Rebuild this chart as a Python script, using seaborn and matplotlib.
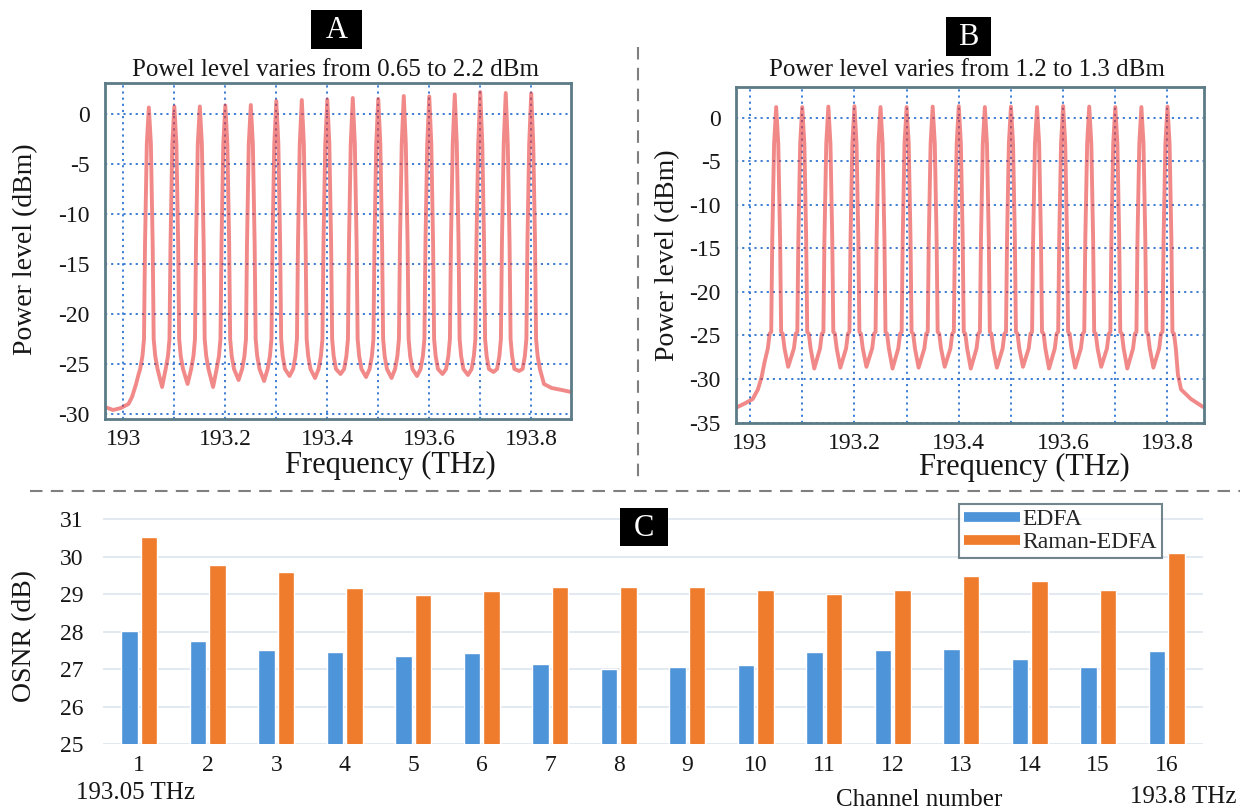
import numpy as np
import pandas as pd
import matplotlib
matplotlib.use('Agg')
import matplotlib.pyplot as plt
import seaborn as sns
from matplotlib.lines import Line2D
from matplotlib.patches import Rectangle
from matplotlib.ticker import MultipleLocator

# ---- spectra (panels A and B) ----
channel_thz = [193.05, 193.10, 193.15, 193.20, 193.25, 193.30, 193.35, 193.40,
               193.45, 193.50, 193.55, 193.60, 193.65, 193.70, 193.75, 193.80]

# panel A: EDFA only
peak_a = [0.65, 0.75, 0.75, 0.85, 0.9, 1.3, 1.4, 1.45, 1.6, 1.5, 1.8, 1.75, 1.95, 2.2, 2.1, 2.05]
valley_a = [-27.3, -27.0, -27.3, -26.6, -26.7, -26.2, -26.4, -26.0,
            -26.3, -26.4, -26.2, -26.0, -26.1, -25.8, -25.7]
shape_off_a = [-0.017, -0.0125, -0.0095, -0.0075, -0.004, 0.0, 0.004, 0.0075, 0.0095, 0.0125, 0.017]
shape_lvl_a = [-25.5, -24.2, -22.5, -13.0, -3.0, None, -3.0, -13.0, -22.5, -24.2, -25.5]
left_f_a = [192.964, 192.98, 192.995, 193.01, 193.017, 193.025, 193.03]
left_p_a = [-29.3, -29.6, -29.4, -29.0, -28.3, -27.0, -26.0]
right_f_a = [193.825, 193.84, 193.86, 193.878]
right_p_a = [-27.0, -27.4, -27.6, -27.8]

# panel B: hybrid Raman-EDFA
peak_b = [1.2, 1.2, 1.25, 1.3, 1.2, 1.2, 1.25, 1.3, 1.2, 1.25, 1.2, 1.3, 1.25, 1.2, 1.2, 1.25]
valley_b = [-28.6, -28.8, -28.7, -28.6, -28.8, -28.7, -28.6, -28.8,
            -28.7, -28.6, -28.8, -28.7, -28.6, -28.8, -28.7]
shape_off_b = [-0.016, -0.0125, -0.0095, -0.0075, -0.004, 0.0, 0.004, 0.0075, 0.0095, 0.0125, 0.016]
shape_lvl_b = [-26.5, -24.8, -24.6, -14.0, -3.0, None, -3.0, -14.0, -24.6, -24.8, -26.5]
left_f_b = [192.973, 192.99, 193.005, 193.015, 193.022, 193.028]
left_p_b = [-33.3, -32.8, -32.3, -31.2, -29.8, -28.0]
right_f_b = [193.82, 193.826, 193.845, 193.868]
right_p_b = [-29.5, -31.2, -32.3, -33.2]

freq_ticks = [193.0, 193.2, 193.4, 193.6, 193.8]
freq_labels = ['193', '193.2', '193.4', '193.6', '193.8']

# ---- OSNR bars (panel C) ----
channels = ['1', '2', '3', '4', '5', '6', '7', '8', '9', '10', '11', '12', '13', '14', '15', '16']
osnr_edfa = [28.02, 27.76, 27.51, 27.47, 27.35, 27.43, 27.14, 27.00,
             27.05, 27.12, 27.47, 27.50, 27.54, 27.26, 27.07, 27.49]
osnr_raman = [30.51, 29.78, 29.59, 29.16, 28.97, 29.08, 29.19, 29.19,
              29.19, 29.10, 29.01, 29.10, 29.49, 29.35, 29.11, 30.09]


def build_trace(left_f, left_p, peaks, valleys, offs, lvls, valley_off, right_f, right_p):
    freq, power = list(left_f), list(left_p)
    for i, f in enumerate(channel_thz):
        for o, l in zip(offs, lvls):
            freq.append(f + o)
            power.append(peaks[i] if l is None else l)
        if i < len(valleys):
            freq.append(f + valley_off)
            power.append(valleys[i])
    freq += right_f
    power += right_p
    return pd.DataFrame({'freq': freq, 'power': power})


spec_a = build_trace(left_f_a, left_p_a, peak_a, valley_a, shape_off_a, shape_lvl_a, 0.026, right_f_a, right_p_a)
spec_b = build_trace(left_f_b, left_p_b, peak_b, valley_b, shape_off_b, shape_lvl_b, 0.023, right_f_b, right_p_b)

sns.set_style('white')
plt.rcParams['font.family'] = ['Liberation Serif', 'DejaVu Serif']

W, H = 1244, 810
fig = plt.figure(figsize=(W / 100, H / 100), dpi=100)


def fx(px):
    return px / W


def fy(py):
    return 1 - py / H


frame_col = '#5b7b86'
grid_col = '#2f74d0'
trace_col = '#e83a3a'
txt_col = '#161616'


def spectrum_panel(rect, data, xlim, ylim, yticks):
    ax = fig.add_axes(rect)
    sns.lineplot(data=data, x='freq', y='power', ax=ax, sort=False, estimator=None,
                 color=trace_col, lw=2.8, alpha=0.6)
    ax.set_xlim(*xlim)
    ax.set_ylim(*ylim)
    ax.set_xticks(freq_ticks)
    ax.set_xticklabels(freq_labels)
    ax.xaxis.set_minor_locator(MultipleLocator(0.1))
    ax.set_yticks(yticks)
    ax.set_yticklabels([str(v) for v in yticks])
    ax.grid(True, which='both', color=grid_col, lw=1.3, ls=(0, (1.2, 2.2)))
    ax.set_xlabel('')
    ax.set_ylabel('')
    for s in ax.spines.values():
        s.set_color(frame_col)
        s.set_linewidth(2)
    ax.tick_params(axis='both', which='both', length=0, labelsize=17, colors=txt_col)
    ax.tick_params(axis='y', pad=11)
    ax.tick_params(axis='x', pad=7)
    return ax


ax_a = spectrum_panel([fx(105), fy(419), fx(466), 336 / H], spec_a,
                      (192.964, 193.878), (-30.5, 3.1), [0, -5, -10, -15, -20, -25, -30])
ax_b = spectrum_panel([fx(736), fy(423), fx(468), 336 / H], spec_b,
                      (192.973, 193.870), (-35.05, 3.5), [0, -5, -10, -15, -20, -25, -30, -35])

fig.text(fx(336), fy(70), 'Powel level varies from 0.65 to 2.2 dBm', ha='center', va='center',
         fontsize=18, color=txt_col)
fig.text(fx(967), fy(70), 'Power level varies from 1.2 to 1.3 dBm', ha='center', va='center',
         fontsize=18, color=txt_col)
fig.text(fx(390), fy(465), 'Frequency (THz)', ha='center', va='center', fontsize=22, color=txt_col)
fig.text(fx(1024), fy(467), 'Frequency (THz)', ha='center', va='center', fontsize=22, color=txt_col)
fig.text(fx(26), fy(249), 'Power level (dBm)', ha='center', va='center', rotation=90,
         fontsize=20, color=txt_col)
fig.text(fx(668), fy(255), 'Power level (dBm)', ha='center', va='center', rotation=90,
         fontsize=20, color=txt_col)

# ---- panel C ----
osnr = pd.DataFrame({
    'channel': channels * 2,
    'osnr': osnr_edfa + osnr_raman,
    'amp': ['EDFA'] * len(channels) + ['Raman-EDFA'] * len(channels),
})
bar_cols = ['#4e94d8', '#ef7b2c']

ax_c = fig.add_axes([fx(103), fy(744.3), fx(1100), (744.3 - 513.4) / H])
sns.barplot(data=osnr, x='channel', y='osnr', hue='amp', palette=bar_cols, saturation=1,
            width=0.57, gap=0.15, ax=ax_c, legend=False)
ax_c.set_ylim(25, 31.15)
ax_c.set_xlim(-0.53, 15.53)
ax_c.set_yticks([25, 26, 27, 28, 29, 30, 31])
ax_c.grid(True, axis='y', color='#dfe7ef', lw=1.3)
ax_c.set_axisbelow(True)
sns.despine(ax=ax_c, left=True, bottom=True)
ax_c.tick_params(axis='both', length=0, labelsize=17, colors=txt_col)
ax_c.tick_params(axis='y', pad=14)
ax_c.tick_params(axis='x', pad=8)
ax_c.set_xlabel('')
ax_c.set_ylabel('')

handles = [Line2D([], [], color=c, lw=7, solid_capstyle='butt') for c in bar_cols]
leg = fig.legend(handles, ['EDFA', 'Raman-EDFA'], loc='upper right',
                 bbox_to_anchor=(fx(1162), fy(504)), bbox_transform=fig.transFigure,
                 fontsize=17, frameon=True, fancybox=False, borderaxespad=0,
                 handlelength=2.4, handletextpad=0.1, labelspacing=0.05,
                 borderpad=0.2)
leg.get_frame().set_edgecolor('#4f6670')
leg.get_frame().set_linewidth(1.5)

fig.text(fx(25), fy(636), 'OSNR (dB)', ha='center', va='center', rotation=90,
         fontsize=20, color=txt_col)
fig.text(fx(135), fy(793), '193.05 THz', ha='center', va='center', fontsize=18, color=txt_col)
fig.text(fx(919), fy(800), 'Channel number', ha='center', va='center', fontsize=18, color=txt_col)
fig.text(fx(1183), fy(797), '193.8 THz', ha='center', va='center', fontsize=18, color=txt_col)

# ---- letter tags ----
for label, x0, y0, x1, y1 in [('A', 311, 10, 362, 49), ('B', 946, 17, 991, 56),
                              ('C', 620, 508, 668, 546)]:
    fig.patches.append(Rectangle((fx(x0), fy(y1)), fx(x1 - x0), (y1 - y0) / H,
                                 transform=fig.transFigure, facecolor='black',
                                 edgecolor='none', zorder=5))
    fig.text(fx((x0 + x1) / 2), fy((y0 + y1) / 2 + 1), label, ha='center', va='center',
             fontsize=22, color='white', zorder=6)

# ---- dashed dividers ----
dash = dict(color='#7f7f7f', lw=1.5, ls=(0, (6, 4)), transform=fig.transFigure)
fig.add_artist(Line2D([fx(638), fx(638)], [fy(47), fy(477)], **dash))
fig.add_artist(Line2D([fx(30), fx(1240)], [fy(491), fy(491)], **dash))

fig.savefig('out.png', dpi=100, facecolor='white')
